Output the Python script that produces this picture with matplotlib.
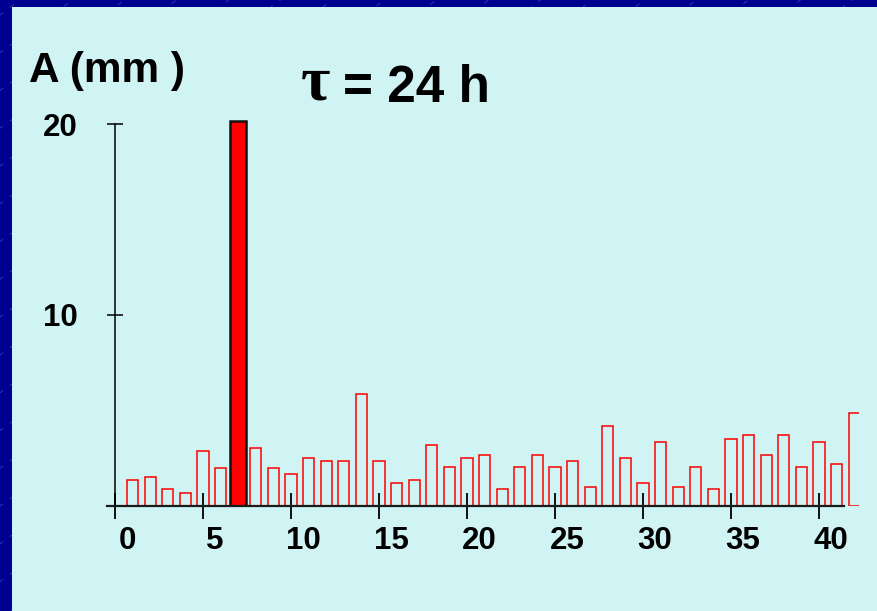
import numpy as np
import matplotlib
matplotlib.use("Agg")
import matplotlib.pyplot as plt
from matplotlib.patches import Rectangle
from matplotlib.transforms import ScaledTranslation

# amplitude per period (mm), one bar per period index 1..42
periods = list(range(1, 43))
amplitudes = [1.35, 1.52, 0.87, 0.68, 2.86, 2.01, 20.15, 3.04, 2.01, 1.69,
              2.53, 2.37, 2.37, 5.86, 2.37, 1.22, 1.35, 3.21, 2.02, 2.53,
              2.69, 0.87, 2.02, 2.69, 2.02, 2.37, 1.01, 4.19, 2.53, 1.22,
              3.37, 1.01, 2.02, 0.87, 3.53, 3.74, 2.69, 3.74, 2.02, 3.37,
              2.20, 4.85]
highlight_period = 7
x_ticks = [0, 5, 10, 15, 20, 25, 30, 35, 40]
y_ticks = [10, 20]
y_title = "A (mm )"
title_symbol = "τ"
title_rest = "= 24 h"

W, H = 878, 611
fig = plt.figure(figsize=(W / 100, H / 100), dpi=100)
fig.patch.set_facecolor("#000090")

# slide background: navy frame with faint diagonal streaks, light cyan panel
streak_ax = fig.add_axes([0, 0, 1, 1], zorder=-10)
streak_ax.set_xlim(0, W)
streak_ax.set_ylim(H, 0)
streak_ax.axis("off")
slope = np.tan(np.radians(36))
for x0 in np.arange(-900, 1800, 52):
    streak_ax.plot([x0, x0 + 1200], [H + 20, H + 20 - 1200 * slope],
                   color="#4a4ac8", lw=0.6, ls=(0, (6, 10)), alpha=0.8)
fig.patches.append(Rectangle((12 / W, 0), 1 - 12 / W, (H - 7) / H,
                             transform=fig.transFigure, facecolor="#D0F3F3",
                             edgecolor="none", zorder=-5))

# axes placed so that x=0 sits at 115 px and y=0 at 506 px
px_x, px_y = 17.6, 19.1
xlim = (-0.5, 42.3)
ylim = (0, 21)
left = (115 + xlim[0] * px_x) / W
width = (xlim[1] - xlim[0]) * px_x / W
bottom = (H - 506) / H
height = (ylim[1] - ylim[0]) * px_y / H
ax = fig.add_axes([left, bottom, width, height])
ax.set_facecolor("none")
ax.set_xlim(*xlim)
ax.set_ylim(*ylim)

colors_face = ["red" if p == highlight_period else "none" for p in periods]
colors_edge = ["#111111" if p == highlight_period else "red" for p in periods]
widths = [0.9 if p == highlight_period else 0.64 for p in periods]
lws = [1.8 if p == highlight_period else 1.1 for p in periods]
ax.bar(periods, amplitudes, width=widths, color=colors_face,
       edgecolor=colors_edge, linewidth=lws, zorder=1)

for side in ("top", "right"):
    ax.spines[side].set_visible(False)
ax.spines["left"].set_position(("data", 0))
ax.spines["left"].set_bounds(0, 20)
ax.spines["left"].set_linewidth(1.1)
ax.spines["bottom"].set_bounds(-0.45, 41.4)
ax.spines["bottom"].set_linewidth(1.6)
ax.spines["bottom"].set_color("#1a1a1a")

label_font = dict(family="Liberation Sans", weight="bold", size=22.5)
ax.set_xticks(x_ticks)
ax.set_xticklabels([str(t) for t in x_ticks], fontdict=label_font)
ax.set_yticks(y_ticks)
ax.set_yticklabels([str(t) for t in y_ticks], fontdict=label_font)
ax.tick_params(axis="x", direction="inout", length=18.7, width=1.3,
               pad=5, colors="black")
ax.tick_params(axis="y", direction="inout", length=11.5, width=1.1,
               pad=21, colors="black")
shift = ScaledTranslation(12 / 100, 0, fig.dpi_scale_trans)
for lbl in ax.get_xticklabels():
    lbl.set_transform(lbl.get_transform() + shift)

fig.text(29 / W, 1 - 82 / H, y_title, ha="left", va="baseline",
         family="Liberation Sans", weight="bold", size=30.5)
fig.text(301 / W, 1 - 99 / H, title_symbol, ha="left", va="baseline",
         family="Liberation Serif", weight="bold", size=46)
fig.text(343 / W, 1 - 101.7 / H, title_rest, ha="left", va="baseline",
         family="Liberation Sans", weight="bold", size=37)

fig.savefig("out.png", dpi=100, facecolor=fig.get_facecolor())
